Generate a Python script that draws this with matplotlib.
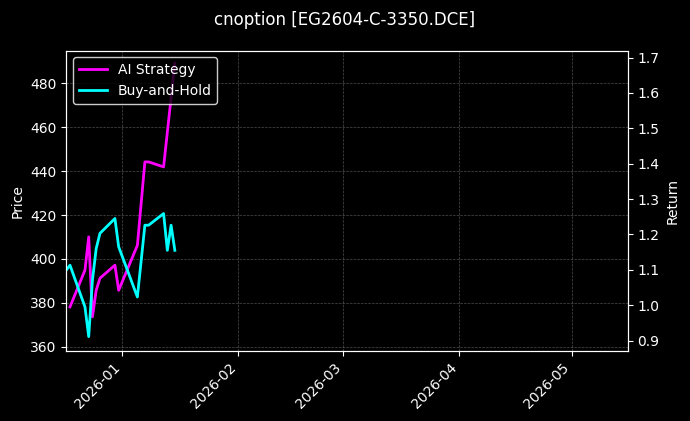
import pandas as pd
import matplotlib.pyplot as plt
import matplotlib.dates as mdates

plt.style.use('dark_background')

strat_dates = ['2025-12-18', '2025-12-22', '2025-12-23', '2025-12-24', '2025-12-25',
               '2025-12-26', '2025-12-30', '2025-12-31', '2026-01-05', '2026-01-07',
               '2026-01-08', '2026-01-12', '2026-01-15']
strat_ret = [0.995, 1.099, 1.193, 0.967, 1.042, 1.076, 1.113, 1.042, 1.169,
             1.405, 1.405, 1.391, 1.684]

bh_dates = ['2025-12-17', '2025-12-18', '2025-12-22', '2025-12-23', '2025-12-24',
            '2025-12-25', '2025-12-26', '2025-12-30', '2025-12-31', '2026-01-05',
            '2026-01-07', '2026-01-08', '2026-01-12', '2026-01-13', '2026-01-14',
            '2026-01-15']
bh_ret = [1.099, 1.113, 0.995, 0.911, 1.071, 1.160, 1.203, 1.245, 1.165, 1.023,
          1.226, 1.226, 1.259, 1.155, 1.226, 1.155]

strat_dates = pd.to_datetime(strat_dates)
bh_dates = pd.to_datetime(bh_dates)

fig, ax = plt.subplots(figsize=(6.9, 4.21), dpi=100)
fig.subplots_adjust(left=0.096, right=0.91, top=0.88, bottom=0.166)
fig.suptitle('cnoption [EG2604-C-3350.DCE]', fontsize=12, y=0.975)

ax.set_ylim(358, 495)
ax.set_ylabel('Price')
ax.set_xlim(pd.Timestamp('2025-12-17'), pd.Timestamp('2026-05-16'))
ax.grid(True, linestyle='--', linewidth=0.5, color='gray', alpha=0.6)
ax.xaxis.set_major_locator(mdates.MonthLocator())
ax.xaxis.set_major_formatter(mdates.DateFormatter('%Y-%m'))
plt.setp(ax.get_xticklabels(), rotation=45, ha='right')

ax2 = ax.twinx()
ax2.plot(strat_dates, strat_ret, color='#ff00ff', lw=2, label='AI Strategy')
ax2.plot(bh_dates, bh_ret, color='#00ffff', lw=2, label='Buy-and-Hold')
ax2.set_ylim(0.87, 1.72)
ax2.set_ylabel('Return')
ax2.legend(loc='upper left', facecolor='black', edgecolor='white')

plt.savefig('out.png')
